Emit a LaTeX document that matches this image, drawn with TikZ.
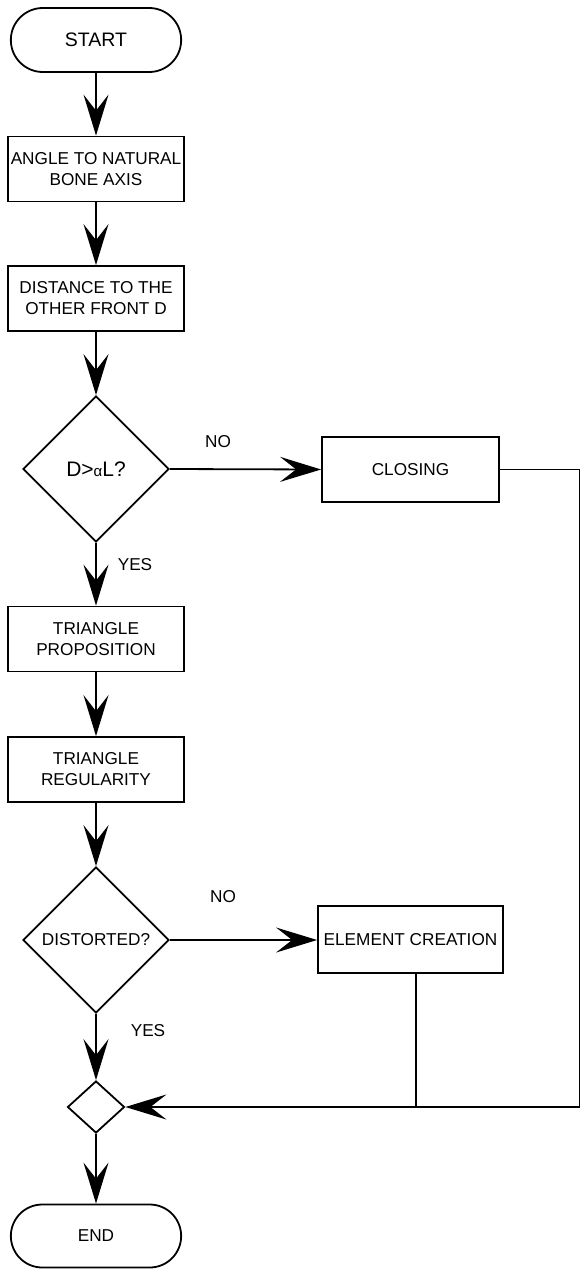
\documentclass[tikz,border=0pt]{standalone}
\usepackage{fontspec}
\setmainfont{Liberation Sans}
\usetikzlibrary{shapes.geometric,shapes.misc,arrows.meta}

\begin{document}
\begin{tikzpicture}[x=1pt, y=-1pt, line width=1.8pt,
    every node/.style={font=\fontsize{17.2}{21}\selectfont},
    box/.style={draw, rectangle, minimum width=176pt, minimum height=65pt, align=center, inner sep=1pt},
    term/.style={draw, rounded rectangle, minimum width=177pt, minimum height=64pt},
    decision/.style={draw, diamond, minimum width=146pt, minimum height=146pt, inner sep=0pt},
    flow/.style={-{Stealth[length=41pt, width=25pt, inset=16pt]}}]
    \useasboundingbox (0,0) rectangle (580,1269);

    \node[term, font=\fontsize{19.5}{21}\selectfont] (start) at (96,40) {START};
    \node[box] (angle) at (96,169) {ANGLE TO NATURAL\\BONE AXIS};
    \node[box] (dist) at (96,298.5) {DISTANCE TO THE\\OTHER FRONT D};
    \node[decision] (front) at (96,469) {\fontsize{21}{21}\selectfont D>{\fontsize{15}{15}\selectfont α}L?};
    \node[box, minimum width=177pt] (closing) at (410.5,469.5) {CLOSING};
    \node[box] (prop) at (96,639) {TRIANGLE\\PROPOSITION};
    \node[box] (reg) at (96,769.5) {TRIANGLE\\REGULARITY};
    \node[decision] (distorted) at (96,940) {DISTORTED?};
    \node[box, minimum width=185pt, minimum height=67pt] (elem) at (410.5,939.5) {ELEMENT CREATION};
    \node[draw, diamond, minimum width=57pt, minimum height=52pt, inner sep=0pt] (merge) at (96,1107) {};
    \node[term, minimum height=63pt] (end) at (96,1236) {END};

    \node (no1) at (218,442) {NO};
    \node (yes1) at (135,565) {YES};
    \node (no2) at (223,897) {NO};
    \node (yes2) at (148,1031) {YES};

    \coordinate (c1) at (580,469.5);
    \coordinate (c2) at (580,1107);
    \coordinate (c3) at (416,1107);

    \draw[flow] (start) -- (angle);
    \draw[flow] (angle) -- (dist);
    \draw[flow] (dist) -- (front);
    \draw[flow] (front.east) -- (closing.west);
    \draw[flow] (front) -- (prop);
    \draw[flow] (prop) -- (reg);
    \draw[flow] (reg) -- (distorted);
    \draw[flow] (distorted.east) -- (elem.west |- distorted.east);
    \draw[flow] (distorted) -- (merge);
    \draw[flow] (merge) -- (end);

    \draw (closing.east) -- (c1) -- (c2);
    \draw[flow] (c2) -- (merge.east);
    \draw (elem.south -| c3) -- (c3);
\end{tikzpicture}
\end{document}
